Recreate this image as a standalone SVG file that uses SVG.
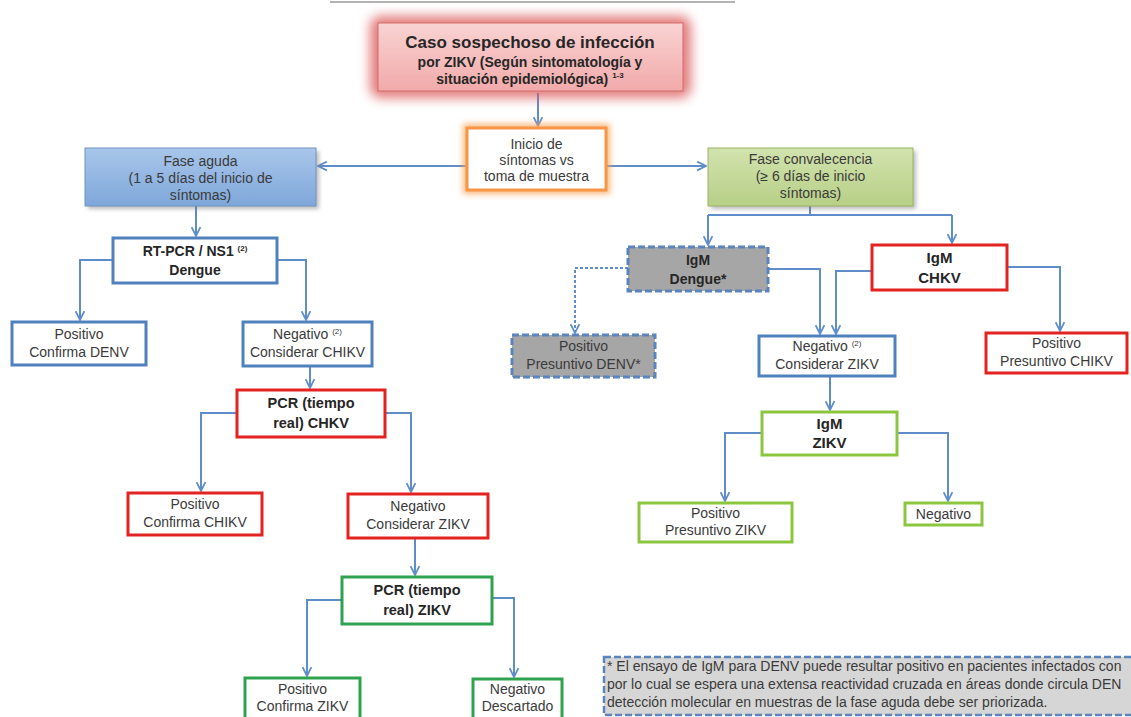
<svg xmlns="http://www.w3.org/2000/svg" width="1131" height="717" viewBox="0 0 1131 717">
<defs>
<style>
.t{font-family:"Liberation Sans",Arial,sans-serif;font-size:14px;fill:#3a3a3a;text-anchor:middle}
.b{font-family:"Liberation Sans",Arial,sans-serif;font-weight:bold;fill:#262626;text-anchor:middle}
.c{fill:none;stroke:#5f8dc9;stroke-width:2}
.d{fill:none;stroke:#5f8dc9;stroke-width:2;stroke-dasharray:3 2}
.bl{fill:#fff;stroke:#4f81bd;stroke-width:3}
.rd{fill:#fff;stroke:#e3231f;stroke-width:3}
.dg{fill:#fff;stroke:#2ea24e;stroke-width:3}
.lg{fill:#fff;stroke:#8cc63f;stroke-width:3}
.gr{fill:#a6a6a6;stroke:#5b84bd;stroke-width:3;stroke-dasharray:7 3}
</style>
<marker id="arr" viewBox="0 0 10 10" refX="9" refY="5" markerWidth="11" markerHeight="11" markerUnits="userSpaceOnUse" orient="auto">
<path d="M1,1 L9,5 L1,9" fill="none" stroke="#5f8dc9" stroke-width="1.6"/>
</marker>
<filter id="blur6" x="-30%" y="-50%" width="160%" height="200%"><feGaussianBlur stdDeviation="6"/></filter>
<filter id="blur3" x="-30%" y="-50%" width="160%" height="200%"><feGaussianBlur stdDeviation="3"/></filter>
<filter id="sh" x="-20%" y="-30%" width="140%" height="160%"><feGaussianBlur stdDeviation="2"/></filter>
<linearGradient id="gRed" x1="0" y1="0" x2="0" y2="1"><stop offset="0" stop-color="#f9d3d3"/><stop offset="1" stop-color="#f2aaaa"/></linearGradient>
<linearGradient id="gBlue" x1="0" y1="0" x2="0" y2="1"><stop offset="0" stop-color="#a9c6ea"/><stop offset="1" stop-color="#7ea7da"/></linearGradient>
<linearGradient id="gGreen" x1="0" y1="0" x2="0" y2="1"><stop offset="0" stop-color="#d2e3ae"/><stop offset="1" stop-color="#b7cf86"/></linearGradient>
</defs>
<rect width="1131" height="717" fill="#fff"/>
<line x1="330" y1="2" x2="735" y2="2" stroke="#9a9a9a" stroke-width="1.5"/>

<g id="connectors">
<path class="c" d="M538,93 V126" marker-end="url(#arr)"/>
<path class="c" d="M467,166 H318" marker-end="url(#arr)"/>
<path class="c" d="M606,166 H706" marker-end="url(#arr)"/>
<path class="c" d="M196,206 V236" marker-end="url(#arr)"/>
<path class="c" d="M113,260 H80 V320" marker-end="url(#arr)"/>
<path class="c" d="M277,260 H306 V320" marker-end="url(#arr)"/>
<path class="c" d="M310,366 V388" marker-end="url(#arr)"/>
<path class="c" d="M237,413 H201 V491" marker-end="url(#arr)"/>
<path class="c" d="M385,413 H411 V492" marker-end="url(#arr)"/>
<path class="c" d="M415,538 V575" marker-end="url(#arr)"/>
<path class="c" d="M342,600 H307 V676" marker-end="url(#arr)"/>
<path class="c" d="M492,598 H514 V677" marker-end="url(#arr)"/>
<path class="c" d="M810,206 V215 M708,215 H952"/>
<path class="c" d="M708,215 V245" marker-end="url(#arr)"/>
<path class="c" d="M952,215 V243" marker-end="url(#arr)"/>
<path class="d" d="M628,268 H575 V333" marker-end="url(#arr)"/>
<path class="c" d="M768,269 H820 V334" marker-end="url(#arr)"/>
<path class="c" d="M872,271 H836 V334" marker-end="url(#arr)"/>
<path class="c" d="M1007,267 H1060 V331" marker-end="url(#arr)"/>
<path class="c" d="M830,376 V410" marker-end="url(#arr)"/>
<path class="c" d="M762,433 H725 V501" marker-end="url(#arr)"/>
<path class="c" d="M897,433 H948 V501" marker-end="url(#arr)"/>
</g>

<g id="n-caso">
<rect x="370" y="16" width="321" height="82" rx="10" fill="#dc5a5a" opacity="0.8" filter="url(#blur6)"/>
<rect x="378" y="23" width="305" height="68" fill="url(#gRed)" stroke="#d46a6a" stroke-width="1"/>
<text class="b" x="530" y="48" font-size="17">Caso sospechoso de infección</text>
<text class="b" x="530" y="67" font-size="14">por ZIKV (Según sintomatología y</text>
<text class="b" x="530" y="84" font-size="14">situación epidemiológica) <tspan font-size="8" dy="-6">1-3</tspan></text>
</g>

<g id="n-inicio">
<rect x="463" y="124" width="147" height="70" fill="#f9a55a" opacity="0.8" filter="url(#blur3)"/>
<rect x="467" y="128" width="139" height="62" fill="#fff" stroke="#f79646" stroke-width="3"/>
<text class="t" x="536.5" y="149">Inicio de</text>
<text class="t" x="536.5" y="165">síntomas vs</text>
<text class="t" x="536.5" y="181">toma de muestra</text>
</g>

<g id="n-aguda">
<rect x="88" y="151" width="231" height="58" fill="#777" opacity="0.5" filter="url(#sh)"/>
<rect x="85" y="148" width="231" height="58" fill="url(#gBlue)" stroke="#6f94c4" stroke-width="1"/>
<text class="t" x="200.5" y="166" font-size="14.5">Fase aguda</text>
<text class="t" x="200.5" y="183" font-size="14.5">(1 a 5 días del inicio de</text>
<text class="t" x="200.5" y="200" font-size="14.5">síntomas)</text>
</g>

<g id="n-conv">
<rect x="711" y="151" width="205" height="58" fill="#777" opacity="0.5" filter="url(#sh)"/>
<rect x="708" y="148" width="205" height="58" fill="url(#gGreen)" stroke="#9bb466" stroke-width="1"/>
<text class="t" x="810.5" y="164" font-size="13.5">Fase convalecencia</text>
<text class="t" x="810.5" y="181" font-size="13.5">(≥ 6 días de inicio</text>
<text class="t" x="810.5" y="198" font-size="13.5">síntomas)</text>
</g>

<g id="n-rtpcr">
<rect class="bl" x="113" y="238" width="164" height="45"/>
<text class="b" x="195" y="256" font-size="14">RT-PCR / NS1 <tspan font-size="8" dy="-5">(2)</tspan></text>
<text class="b" x="195" y="275" font-size="14">Dengue</text>
</g>

<g id="n-pos-denv">
<rect class="bl" x="12" y="322" width="134" height="43"/>
<text class="t" x="79" y="339">Positivo</text>
<text class="t" x="79" y="357">Confirma DENV</text>
</g>

<g id="n-neg-chikv">
<rect class="bl" x="243" y="322" width="129" height="44"/>
<text class="t" x="307.5" y="339">Negativo <tspan font-size="8" dy="-5">(2)</tspan></text>
<text class="t" x="307.5" y="357">Considerar CHIKV</text>
</g>

<g id="n-pcr-chkv">
<rect class="rd" x="237" y="390" width="148" height="47"/>
<text class="b" x="311" y="408" font-size="14.5">PCR (tiempo</text>
<text class="b" x="311" y="428" font-size="14.5">real) CHKV</text>
</g>

<g id="n-pos-chikv">
<rect class="rd" x="128" y="493" width="134" height="42"/>
<text class="t" x="195" y="509">Positivo</text>
<text class="t" x="195" y="527">Confirma CHIKV</text>
</g>

<g id="n-neg-zikv-l">
<rect class="rd" x="348" y="494" width="140" height="44"/>
<text class="t" x="418" y="511">Negativo</text>
<text class="t" x="418" y="529">Considerar ZIKV</text>
</g>

<g id="n-pcr-zikv">
<rect class="dg" x="342" y="577" width="150" height="47"/>
<text class="b" x="417" y="595" font-size="14.5">PCR (tiempo</text>
<text class="b" x="417" y="615" font-size="14.5">real) ZIKV</text>
</g>

<g id="n-pos-zikv-l">
<rect class="dg" x="245" y="678" width="115" height="46"/>
<text class="t" x="302.5" y="694">Positivo</text>
<text class="t" x="302.5" y="711">Confirma ZIKV</text>
</g>

<g id="n-neg-desc">
<rect class="dg" x="473" y="679" width="89" height="46"/>
<text class="t" x="517.5" y="694">Negativo</text>
<text class="t" x="517.5" y="711">Descartado</text>
</g>

<g id="n-igm-denv">
<rect class="gr" x="628" y="247" width="140" height="44"/>
<text class="b" x="698" y="265" font-size="14">IgM</text>
<text class="b" x="698" y="284" font-size="14">Dengue*</text>
</g>

<g id="n-igm-chkv">
<rect class="rd" x="872" y="245" width="135" height="45"/>
<text class="b" x="939.5" y="263" font-size="15">IgM</text>
<text class="b" x="939.5" y="283" font-size="15">CHKV</text>
</g>

<g id="n-pos-denv-r">
<rect class="gr" x="512" y="335" width="143" height="42"/>
<text class="t" x="583.5" y="351">Positivo</text>
<text class="t" x="583.5" y="369">Presuntivo DENV*</text>
</g>

<g id="n-neg-zikv-r">
<rect class="bl" x="759" y="336" width="136" height="40"/>
<text class="t" x="827" y="351">Negativo <tspan font-size="8" dy="-5">(2)</tspan></text>
<text class="t" x="827" y="369">Considerar ZIKV</text>
</g>

<g id="n-pos-chkv-r">
<rect class="rd" x="986" y="333" width="141" height="40"/>
<text class="t" x="1056.5" y="348">Positivo</text>
<text class="t" x="1056.5" y="366">Presuntivo CHIKV</text>
</g>

<g id="n-igm-zikv">
<rect class="lg" x="762" y="412" width="135" height="43"/>
<text class="b" x="829.5" y="429" font-size="15">IgM</text>
<text class="b" x="829.5" y="448" font-size="15">ZIKV</text>
</g>

<g id="n-pos-zikv-r">
<rect class="lg" x="639" y="503" width="153" height="39"/>
<text class="t" x="715.5" y="518">Positivo</text>
<text class="t" x="715.5" y="535">Presuntivo ZIKV</text>
</g>

<g id="n-neg-r">
<rect class="lg" x="905" y="503" width="77" height="22"/>
<text class="t" x="943.5" y="519">Negativo</text>
</g>

<g id="n-nota">
<rect x="604" y="657" width="540" height="58" fill="#d6d6d6" stroke="#5b84bd" stroke-width="2.5" stroke-dasharray="7 3"/>
<text class="t" x="607" y="671" font-size="14.6" style="text-anchor:start">* El ensayo de IgM para DENV puede resultar positivo  en pacientes infectados con</text>
<text class="t" x="607" y="689" font-size="14.6" style="text-anchor:start">por lo cual se espera una extensa reactividad cruzada en áreas donde circula DEN</text>
<text class="t" x="607" y="707" font-size="14.6" style="text-anchor:start">detección molecular en muestras de la fase aguda debe ser priorizada.</text>
</g>
</svg>
